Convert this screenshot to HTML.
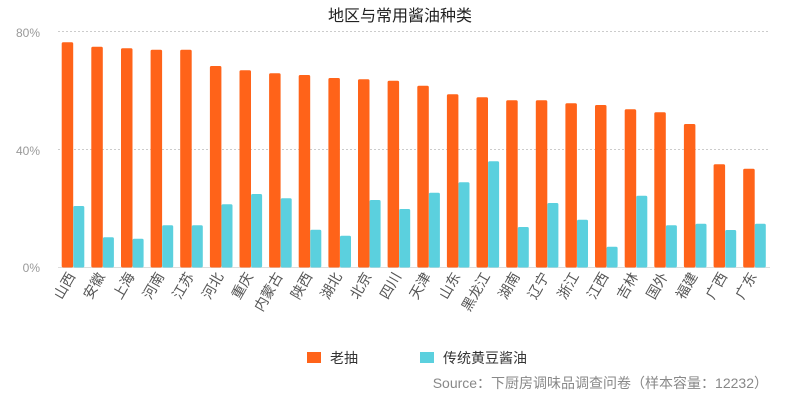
<!DOCTYPE html>
<html><head><meta charset="utf-8"><style>
body{margin:0;background:#fff;width:800px;height:400px;overflow:hidden}
svg{display:block;font-family:"Liberation Sans","Noto Sans CJK SC",sans-serif}
</style></head><body>
<svg width="800" height="400" viewBox="0 0 800 400">
<text x="400" y="21" text-anchor="middle" font-size="16" fill="#222">地区与常用酱油种类</text>
<g stroke="#ccc" stroke-dasharray="2,2" stroke-width="1">
<line x1="58" y1="31.5" x2="770" y2="31.5"/>
<line x1="58" y1="149.5" x2="770" y2="149.5"/>
</g>
<line x1="58" y1="267.5" x2="770" y2="267.5" stroke="#ddd"/>
<g font-size="12" fill="#999" text-anchor="end">
<text x="40" y="37">80%</text>
<text x="40" y="155">40%</text>
<text x="40" y="272">0%</text>
</g>
<g fill="#ff6319">
<rect x="61.7" y="42.3" width="11.5" height="225.2" rx="1.5"/>
<rect x="91.3" y="46.7" width="11.5" height="220.8" rx="1.5"/>
<rect x="121.0" y="48.3" width="11.5" height="219.2" rx="1.5"/>
<rect x="150.6" y="49.7" width="11.5" height="217.8" rx="1.5"/>
<rect x="180.2" y="49.7" width="11.5" height="217.8" rx="1.5"/>
<rect x="209.9" y="66" width="11.5" height="201.5" rx="1.5"/>
<rect x="239.5" y="70.3" width="11.5" height="197.2" rx="1.5"/>
<rect x="269.1" y="73.3" width="11.5" height="194.2" rx="1.5"/>
<rect x="298.7" y="75" width="11.5" height="192.5" rx="1.5"/>
<rect x="328.4" y="78" width="11.5" height="189.5" rx="1.5"/>
<rect x="358.0" y="79.3" width="11.5" height="188.2" rx="1.5"/>
<rect x="387.6" y="80.7" width="11.5" height="186.8" rx="1.5"/>
<rect x="417.3" y="85.7" width="11.5" height="181.8" rx="1.5"/>
<rect x="446.9" y="94.3" width="11.5" height="173.2" rx="1.5"/>
<rect x="476.5" y="97.3" width="11.5" height="170.2" rx="1.5"/>
<rect x="506.2" y="100.3" width="11.5" height="167.2" rx="1.5"/>
<rect x="535.8" y="100.3" width="11.5" height="167.2" rx="1.5"/>
<rect x="565.4" y="103.3" width="11.5" height="164.2" rx="1.5"/>
<rect x="595.0" y="105" width="11.5" height="162.5" rx="1.5"/>
<rect x="624.7" y="109.3" width="11.5" height="158.2" rx="1.5"/>
<rect x="654.3" y="112.3" width="11.5" height="155.2" rx="1.5"/>
<rect x="683.9" y="124" width="11.5" height="143.5" rx="1.5"/>
<rect x="713.6" y="164.3" width="11.5" height="103.2" rx="1.5"/>
<rect x="743.2" y="168.7" width="11.5" height="98.8" rx="1.5"/>
</g>
<g fill="#5bd0de">
<rect x="73.3" y="206" width="11" height="61.5" rx="1.5"/>
<rect x="102.9" y="237.3" width="11" height="30.2" rx="1.5"/>
<rect x="132.6" y="238.7" width="11" height="28.8" rx="1.5"/>
<rect x="162.2" y="225.3" width="11" height="42.2" rx="1.5"/>
<rect x="191.8" y="225.3" width="11" height="42.2" rx="1.5"/>
<rect x="221.5" y="204.3" width="11" height="63.2" rx="1.5"/>
<rect x="251.1" y="194" width="11" height="73.5" rx="1.5"/>
<rect x="280.7" y="198.3" width="11" height="69.2" rx="1.5"/>
<rect x="310.3" y="229.7" width="11" height="37.8" rx="1.5"/>
<rect x="340.0" y="235.7" width="11" height="31.8" rx="1.5"/>
<rect x="369.6" y="200" width="11" height="67.5" rx="1.5"/>
<rect x="399.2" y="209" width="11" height="58.5" rx="1.5"/>
<rect x="428.9" y="192.7" width="11" height="74.8" rx="1.5"/>
<rect x="458.5" y="182.3" width="11" height="85.2" rx="1.5"/>
<rect x="488.1" y="161.3" width="11" height="106.2" rx="1.5"/>
<rect x="517.8" y="227" width="11" height="40.5" rx="1.5"/>
<rect x="547.4" y="203" width="11" height="64.5" rx="1.5"/>
<rect x="577.0" y="219.7" width="11" height="47.8" rx="1.5"/>
<rect x="606.6" y="246.7" width="11" height="20.8" rx="1.5"/>
<rect x="636.3" y="195.7" width="11" height="71.8" rx="1.5"/>
<rect x="665.9" y="225.3" width="11" height="42.2" rx="1.5"/>
<rect x="695.5" y="223.7" width="11" height="43.8" rx="1.5"/>
<rect x="725.2" y="230" width="11" height="37.5" rx="1.5"/>
<rect x="754.8" y="223.7" width="11" height="43.8" rx="1.5"/>
</g>
<g font-size="14" fill="#555" text-anchor="end">
<text x="75.7" y="276" transform="rotate(-60 75.7 276)">山西</text>
<text x="105.3" y="276" transform="rotate(-60 105.3 276)">安徽</text>
<text x="135.0" y="276" transform="rotate(-60 135.0 276)">上海</text>
<text x="164.6" y="276" transform="rotate(-60 164.6 276)">河南</text>
<text x="194.2" y="276" transform="rotate(-60 194.2 276)">江苏</text>
<text x="223.9" y="276" transform="rotate(-60 223.9 276)">河北</text>
<text x="253.5" y="276" transform="rotate(-60 253.5 276)">重庆</text>
<text x="283.1" y="276" transform="rotate(-60 283.1 276)">内蒙古</text>
<text x="312.7" y="276" transform="rotate(-60 312.7 276)">陕西</text>
<text x="342.4" y="276" transform="rotate(-60 342.4 276)">湖北</text>
<text x="372.0" y="276" transform="rotate(-60 372.0 276)">北京</text>
<text x="401.6" y="276" transform="rotate(-60 401.6 276)">四川</text>
<text x="431.3" y="276" transform="rotate(-60 431.3 276)">天津</text>
<text x="460.9" y="276" transform="rotate(-60 460.9 276)">山东</text>
<text x="490.5" y="276" transform="rotate(-60 490.5 276)">黑龙江</text>
<text x="520.2" y="276" transform="rotate(-60 520.2 276)">湖南</text>
<text x="549.8" y="276" transform="rotate(-60 549.8 276)">辽宁</text>
<text x="579.4" y="276" transform="rotate(-60 579.4 276)">浙江</text>
<text x="609.0" y="276" transform="rotate(-60 609.0 276)">江西</text>
<text x="638.7" y="276" transform="rotate(-60 638.7 276)">吉林</text>
<text x="668.3" y="276" transform="rotate(-60 668.3 276)">国外</text>
<text x="697.9" y="276" transform="rotate(-60 697.9 276)">福建</text>
<text x="727.6" y="276" transform="rotate(-60 727.6 276)">广西</text>
<text x="757.2" y="276" transform="rotate(-60 757.2 276)">广东</text>
</g>
<rect x="307" y="352" width="14" height="11" fill="#ff6319"/>
<text x="330" y="363" font-size="14" fill="#333">老抽</text>
<rect x="420" y="352" width="14" height="11" fill="#5bd0de"/>
<text x="443" y="363" font-size="14" fill="#333">传统黄豆酱油</text>
<text x="768" y="388" text-anchor="end" font-size="14" fill="#888">Source：下厨房调味品调查问卷（样本容量：12232）</text>
</svg>
</body></html>
